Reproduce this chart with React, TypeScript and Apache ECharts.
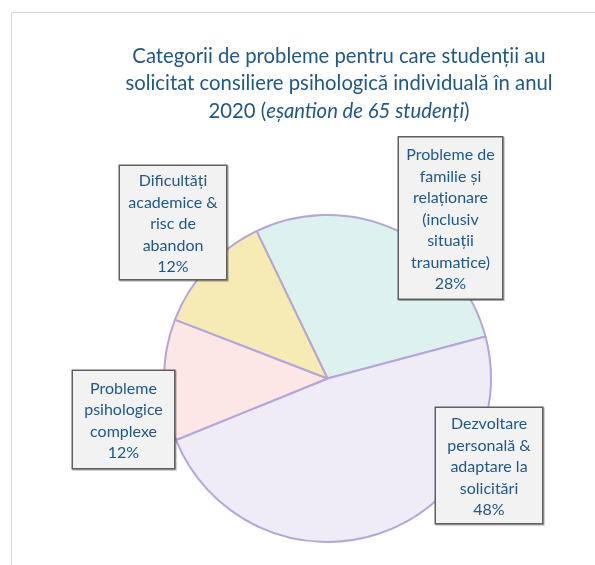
import React, { useEffect, useRef } from "react";
import * as echarts from "echarts";

const categories = [
  "Probleme de\nfamilie și\nrelaționare\n(inclusiv\nsituații\ntraumatice)",
  "Dezvoltare\npersonală &\nadaptare la\nsolicitări",
  "Probleme\npsihologice\ncomplexe",
  "Dificultăți\nacademice &\nrisc de\nabandon",
];
const values = [28, 48, 12, 12];
const colors = ["#ddf2ef", "#efebf7", "#fde6e6", "#f6ebb4"];

const titleLines = [
  "Categorii de probleme pentru care studenții au",
  "solicitat consiliere psihologică individuală în anul",
];
const titleYear = "2020 (";
const titleItalic = "eșantion de 65 studenți";

// label box geometry (center x, center y, width, height)
const boxes = [
  [450.5, 218, 103, 161],
  [489, 465.5, 106, 115],
  [123.5, 419.5, 101, 97],
  [173, 222.5, 106, 113],
];

const FONT = "Lato, 'Open Sans', sans-serif";
const BLUE = "#1f5788";
const LH = 21.5;

export default function App() {
  const ref = useRef<HTMLDivElement>(null);
  useEffect(() => {
    if (!ref.current) return;
    const chart = echarts.init(ref.current, null, { renderer: "svg" });
    const data = values.map((v, i) => {
      const lines = categories[i].split("\n").length + 1;
      const [, , w, h] = boxes[i];
      const padV = Math.max(0, (h - lines * LH) / 2);
      return {
        name: categories[i],
        value: v,
        itemStyle: { color: colors[i] },
        label: {
          width: w - 8,
          height: lines * LH,
          padding: [padV, 4, padV, 4],
        },
      };
    });
    chart.setOption({
      animation: false,
      title: {
        text:
          titleLines[0] +
          "\n" +
          titleLines[1] +
          "\n" +
          titleYear +
          "{i|" +
          titleItalic +
          "})",
        left: 334,
        top: 36,
        textAlign: "center",
        textStyle: {
          fontFamily: FONT,
          fontSize: 20.3,
          fontWeight: "normal",
          color: BLUE,
          lineHeight: 27.5,
          rich: {
            i: {
              fontFamily: FONT,
              fontSize: 20.3,
              fontStyle: "italic",
              color: BLUE,
              lineHeight: 27.5,
            },
          },
        },
      },
      graphic: [
        {
          type: "rect",
          shape: { x: 11.5, y: 12.5, width: 700, height: 700 },
          style: { fill: "none", stroke: "#d9d9d9", lineWidth: 1 },
          silent: true,
        },
      ],
      series: [
        {
          type: "pie",
          center: [327.5, 378.5],
          radius: 163.5,
          startAngle: 115.7,
          clockwise: true,
          silent: true,
          itemStyle: { borderColor: "#b4a7d6", borderWidth: 2 },
          labelLine: { show: false },
          emphasis: { disabled: true },
          label: {
            show: true,
            position: "outside",
            formatter: (p: any) => p.name + "\n" + p.value + "%",
            fontFamily: FONT,
            fontSize: 16,
            color: BLUE,
            lineHeight: LH,
            align: "center",
            verticalAlign: "middle",
            backgroundColor: "#f2f2f2",
            borderColor: "#5f5f5f",
            borderWidth: 1.5,
            shadowColor: "rgba(0,0,0,0.35)",
            shadowOffsetX: 1,
            shadowOffsetY: 1,
            shadowBlur: 0,
          },
          labelLayout: (params: any) => {
            const b = boxes[params.dataIndex];
            return { x: b[0], y: b[1], align: "center", verticalAlign: "middle", hideOverlap: false };
          },
          data,
        },
      ],
    });
    return () => chart.dispose();
  }, []);
  return (
    <div
      ref={ref}
      style={{ position: "fixed", left: 0, top: 0, width: 595, height: 565 }}
    />
  );
}
